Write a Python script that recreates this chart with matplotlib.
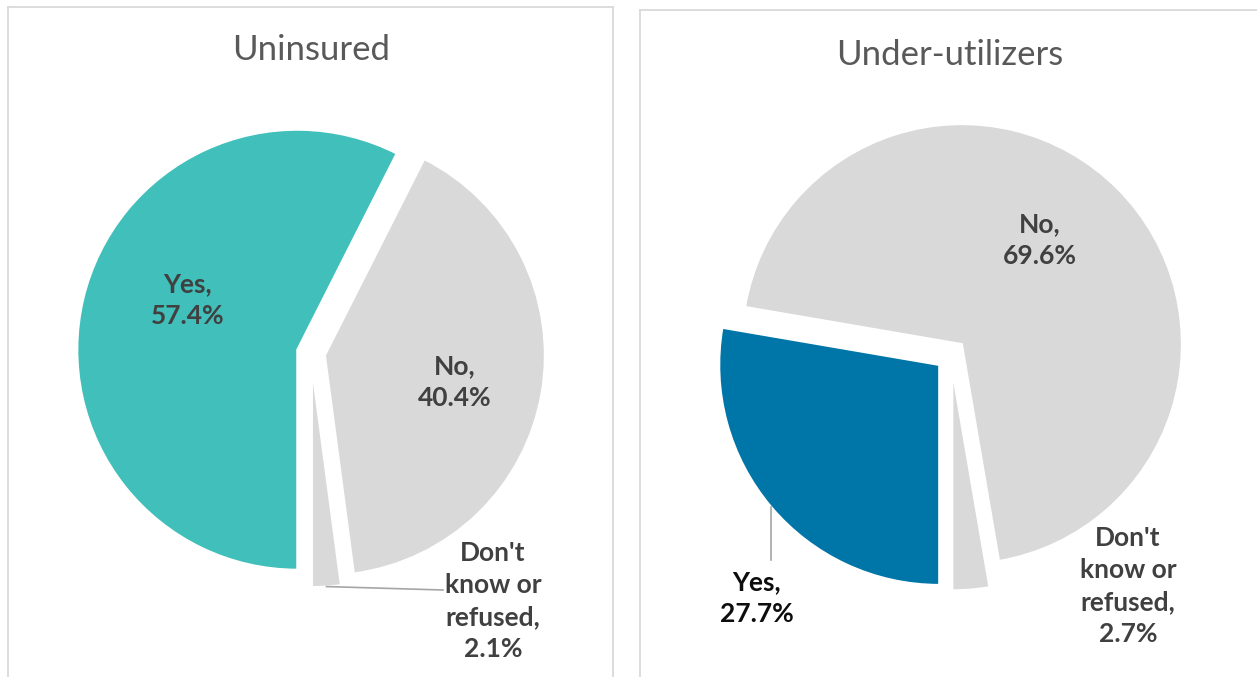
import math
import matplotlib.pyplot as plt

W, H = 1257, 677
R_PX = 220.0  # pie radius in pixels

labels = ["Yes", "No", "Don't\nknow or\nrefused"]
uninsured = [57.4, 40.4, 2.1]
underutilizers = [27.7, 69.6, 2.7]

TEAL = "#41C0BB"
BLUE = "#0075A8"
GRAY = "#D9D9D9"
TXT = "#404040"

plt.rcParams['font.family'] = ['Lato', 'DejaVu Sans']

fig = plt.figure(figsize=(W / 100, H / 100), dpi=100)


def panel(x0, x1, top, cx, cy):
    # axes in pie-radius units, origin at pie centre (pixel coords in, y down)
    ax = fig.add_axes([x0 / W, -12 / H, (x1 - x0) / W, (H - top + 12) / H])
    ax.set_xticks([])
    ax.set_yticks([])
    for s in ax.spines.values():
        s.set_color(GRAY)
        s.set_linewidth(1.3)
    px = lambda x, y: ((x - cx) / R_PX, (cy - y) / R_PX)
    lims = ((x0 - cx) / R_PX, (x1 - cx) / R_PX), ((cy - H - 12) / R_PX, (cy - top) / R_PX)
    return ax, px, lims


def label(ax, px, x, y, name, val, color=TXT):
    ax.text(*px(x, y), f"{name},\n{val}%", ha='center', va='center',
            fontsize=19, fontweight='bold', color=color, linespacing=1.4)


def arc_mid(w):
    t = math.radians((w.theta1 + w.theta2) / 2)
    return (w.center[0] + w.r * math.cos(t), w.center[1] + w.r * math.sin(t))


# --- Uninsured ---
ax1, p1, (xl, yl) = panel(8, 613, 7, 311, 353)
w1, _ = ax1.pie(uninsured, colors=[TEAL, GRAY, GRAY], startangle=-90,
                counterclock=False, explode=[0.064] * 3, frame=True,
                wedgeprops=dict(edgecolor='white', linewidth=1.5))
ax1.set_xlim(xl)
ax1.set_ylim(yl)
ax1.text(*p1(311, 50), "Uninsured", ha='center', va='center',
         fontsize=25, color='#595959')
label(ax1, p1, 188, 300, labels[0], uninsured[0])
label(ax1, p1, 455, 382, labels[1], uninsured[1])
label(ax1, p1, 493, 601, labels[2], uninsured[2])
sx, sy = arc_mid(w1[2])
ex, ey = p1(443, 590)
ax1.plot([sx, ex], [sy, ey], color='#A6A6A6', lw=1.2)

# --- Under-utilizers ---
ax2, p2, (xl, yl) = panel(640, 1275, 10, 951, 355)
w2, _ = ax2.pie(underutilizers, colors=[BLUE, GRAY, GRAY], startangle=-90,
                counterclock=False, explode=[0.07] * 3, frame=True,
                wedgeprops=dict(edgecolor='white', linewidth=1.5))
ax2.set_xlim(xl)
ax2.set_ylim(yl)
ax2.text(*p2(950, 55), "Under-utilizers", ha='center', va='center',
         fontsize=25, color='#595959')
label(ax2, p2, 757, 598, labels[0], underutilizers[0], color='#0D0D0D')
label(ax2, p2, 1040, 240, labels[1], underutilizers[1])
label(ax2, p2, 1128, 586, labels[2], underutilizers[2])
sx, sy = arc_mid(w2[0])
ax2.plot([sx, sx], [sy, p2(0, 560)[1]], color='#A6A6A6', lw=1.2)

fig.savefig("out.png", dpi=100)
